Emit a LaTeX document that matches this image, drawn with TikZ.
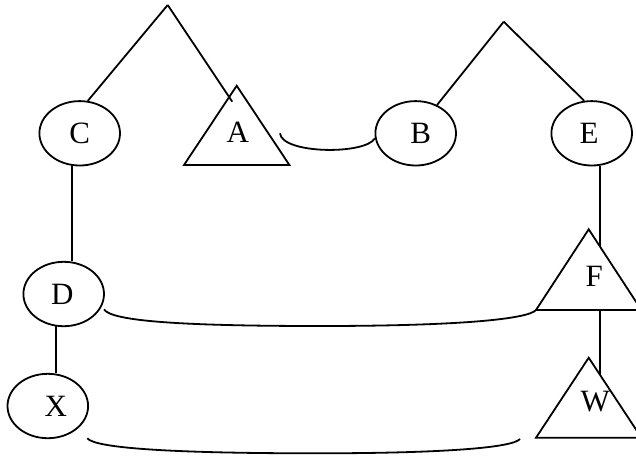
\documentclass[tikz,border=0pt]{standalone}
\usepackage{fontspec}
\setmainfont{Liberation Serif}
\usetikzlibrary{shapes.geometric,calc}
\tikzset{
  ell/.style={draw, ellipse, line width=1.8pt, minimum width=80.6pt, minimum height=64.4pt, inner sep=0pt, font=\fontsize{31}{31}\selectfont},
  lbl/.style={inner sep=0pt, font=\fontsize{31}{31}\selectfont},
  tri/.style={draw, fill=white, line width=1.8pt, line join=miter},
  con/.style={line width=1.8pt},
}
\begin{document}
\begin{tikzpicture}[x=1pt,y=-1pt]
\useasboundingbox (0,0) rectangle (636,459);
\clip (0,0) rectangle (636,459);
% ellipse nodes
\node[ell] (C) at (79.7,133.3) {C};
\node[ell] (B) at (415.7,133.3) {\hspace*{10pt}B};
\node[ell] (E) at (591.7,133.3) {\hspace*{-5pt}E};
\node[ell] (D) at (63.7,294) {\hspace*{-3pt}D};
\node[ell] (X) at (47.8,406) {\hspace*{16pt}X};
% triangle corner coordinates
\coordinate (Atop) at (236.7,85.7);
\coordinate (Abl) at (184,165);
\coordinate (Abr) at (289.4,165);
\coordinate (Ftop) at (588.7,229.3);
\coordinate (Fbl) at (536,310);
\coordinate (Fbr) at (641.4,310);
\coordinate (Wtop) at (588.7,357.7);
\coordinate (Wbl) at (536,437.7);
\coordinate (Wbr) at (641.4,437.7);
% apexes and free ends
\coordinate (top1) at (167.7,5);
\coordinate (top2) at (503.7,21.7);
\coordinate (Ain) at (232.3,101.7);
\coordinate (Aend) at (280,133.3);
\coordinate (Dend) at (104,309.3);
\coordinate (Xend) at (87.3,438.3);
\coordinate (Wend) at (520,439);
\coordinate (Wmid) at (600,390);
% connectors under triangles
\draw[con] (E.-75) -- (E.-75 |- Wmid);
\draw[con] (C.-104) -- (C.-104 |- D.north);
\draw[con] (D.-104) -- (D.-104 |- X.north);
\draw[con] (top2) -- (B.53);
\draw[con] (top2) -- (E.103);
\draw[con] (top1) -- (C.76);
\draw[con] (Aend) .. controls (282,154) and (365,155) .. (B.187);
\draw[con] (Dend) .. controls (111,321) and (180,326) .. (320,326)
                  .. controls (460,326) and (528,319) .. (Fbl);
\draw[con] (Xend) .. controls (95,448) and (170,453.3) .. (316,453.3)
                  .. controls (440,453.3) and (512,448) .. (Wend);
% triangles
\draw[tri] (Atop) -- (Abl) -- (Abr) -- cycle;
\draw[tri] (Ftop) -- (Fbl) -- (Fbr) -- cycle;
\draw[tri] (Wtop) -- (Wbl) -- (Wbr) -- cycle;
\node[lbl] (A) at (237.7,132.7) {A};
\node[lbl] (F) at (594.3,276.7) {F};
\node[lbl] (W) at (595.3,401.7) {W};
% line entering triangle A
\draw[con] (top1) -- (Ain);
\end{tikzpicture}
\end{document}
